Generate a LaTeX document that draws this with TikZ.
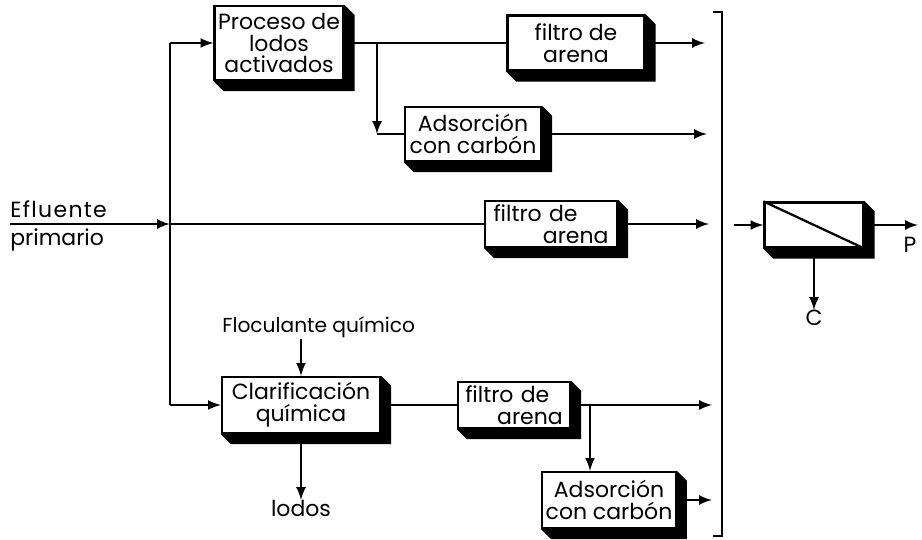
\documentclass[tikz,border=0pt]{standalone}
\usepackage{fontspec}
\setmainfont{Poppins}

\tikzset{
  caja/.style={draw, fill=white, line width=1.3pt, align=center, inner sep=2pt,
    font=\fontsize{12.5}{12.5}\selectfont},
  linea/.style={line width=1.5pt},
  rotulo/.style={font=\fontsize{12.5}{13}\selectfont, inner sep=0pt}
}

\begin{document}
\begin{tikzpicture}[x=0.02cm, y=-0.02cm, >=latex]
            \useasboundingbox (0,0) rectangle (922,540);

            % cajas
            \node[caja, minimum width=2.44cm, minimum height=1.48cm] (pla) at (279,43) {Proceso de\\lodos\\activados};
            \node[caja, minimum width=2.74cm, minimum height=1.1cm] (fa1) at (576,43) {filtro de\\arena};
            \node[caja, minimum width=2.72cm, minimum height=1.08cm] (ac1) at (473,134) {Adsorción\\con carbón};
            \node[caja, minimum width=2.64cm, minimum height=0.9cm, text width=2.3cm, align=left] (fa2) at (551,224) {filtro de\\\hfill arena};
            \node[caja, minimum width=3.16cm, minimum height=1.12cm] (cq) at (301,405) {Clarificación\\química};
            \node[caja, minimum width=2.24cm, minimum height=0.84cm, text width=1.95cm, align=left] (fa3) at (514,405) {filtro de\\\hfill arena};
            \node[caja, minimum width=2.56cm, minimum height=1.12cm] (ac2) at (609,500) {Adsorción\\con carbón};
            \node[caja, minimum width=1.98cm, minimum height=0.9cm] (mem) at (814,225) {};

            % relieve de las cajas
            \foreach \n in {pla,fa1,ac1,fa2,cq,fa3,ac2,mem}
                \fill (\n.north east) -- ([shift={(10,10)}]\n.north east) -- ([shift={(10,10)}]\n.south east)
                    -- ([shift={(10,10)}]\n.south west) -- (\n.south west) -- (\n.south east) -- cycle;
            \draw[line width=1.3pt] (mem.north west) -- (mem.south east);

            % textos
            \node[rotulo, anchor=base west, font=\fontsize{12.5}{13}\selectfont\addfontfeature{LetterSpace=6}] (efl) at (10,218) {Efluente};
            \node[rotulo, anchor=base west] (pri) at (10,246) {primario};
            \node[rotulo, anchor=base west, font=\fontsize{11.5}{13}\selectfont] (floc) at (222,333) {Floculante químico};
            \node[rotulo, anchor=north] (lod) at (301,500) {lodos};
            \node[rotulo] (pp) at (910,245) {P};
            \node[rotulo, anchor=north] (cc) at (814,310) {C};

            % puntos de paso
            \coordinate (e0) at (10,224);
            \coordinate (j1) at (170,224);
            \coordinate (jt) at (170,43);
            \coordinate (jb) at (170,405);
            \coordinate (r1) at (377,43);
            \coordinate (r1b) at (377,134);
            \coordinate (r3) at (590,405);
            \coordinate (s1) at (705,43);
            \coordinate (s2) at (707,134);
            \coordinate (s3) at (709,224);
            \coordinate (s4) at (712,405);
            \coordinate (s5) at (712,500);
            \coordinate (m0) at (734,225);
            \coordinate (m1) at (918,225);

            % lineas
            \draw[linea, ->] (e0) -- (j1);
            \draw[linea] (j1) -- (fa2);
            \draw[linea] (jt) -- (jb);
            \draw[linea, ->] (jt) -- (pla);
            \draw[linea] (pla) -- (fa1);
            \draw[linea, ->] (r1) -- (r1b);
            \draw[linea] (r1b) -- (ac1);
            \draw[linea, ->] (fa1) -- (s1);
            \draw[linea, ->] (ac1) -- (s2);
            \draw[linea, ->] (fa2) -- (s3);
            \draw[linea, ->] (jb) -- (cq);
            \draw[linea] (cq) -- (fa3);
            \draw[linea, ->] (fa3) -- (s4);
            \draw[linea, ->] (r3) -- (r3 |- ac2.north);
            \draw[linea, ->] (ac2) -- (s5);
            \draw[linea, ->] (floc.south -| cq.north) -- (cq.north);
            \draw[linea, ->] (cq.south) -- (lod.north);

            % corchete y membrana
            \draw[linea] (713,12) -- (722,12) -- (722,536) -- (713,536);
            \draw[linea, ->] (m0) -- (mem);
            \draw[linea, ->] (mem) -- (m1);
            \draw[linea, ->] (mem) -- (cc);
        \end{tikzpicture}
\end{document}
